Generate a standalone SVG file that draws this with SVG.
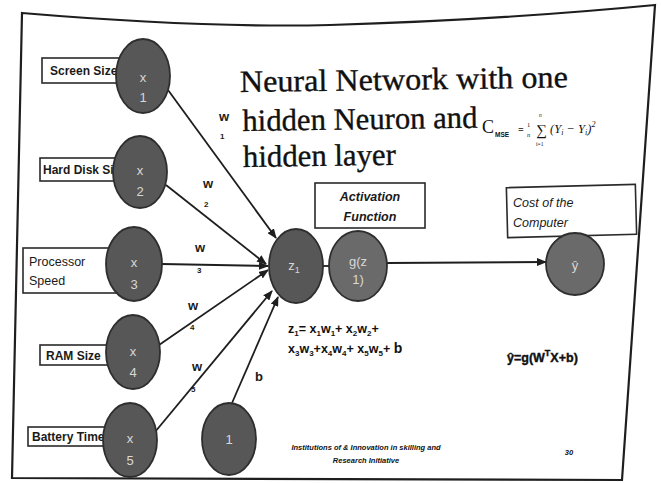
<svg xmlns="http://www.w3.org/2000/svg" width="661" height="483" viewBox="0 0 661 483">
<style>
.frame{fill:none;stroke:#1e1e1e;stroke-width:2.2}
.lbl{fill:#fff;stroke:#2a2a2a;stroke-width:1.6}
.node{fill:#575757;stroke:#2e2e2e;stroke-width:1.8}
.node2{fill:#6a6a6a;stroke:#2e2e2e;stroke-width:1.8}
.ntx{font-family:"Liberation Sans",Arial,sans-serif;font-size:13px;fill:#d8d8d8;text-anchor:middle}
.lt{font-family:"Liberation Sans",Arial,sans-serif;font-size:12px;font-weight:bold;fill:#1a1a1a}
.lt2{font-family:"Liberation Sans",Arial,sans-serif;font-size:12.5px;fill:#1a1a1a}
.it{font-family:"Liberation Sans",Arial,sans-serif;font-size:12.5px;font-style:italic;font-weight:bold;fill:#1a1a1a}
.title{font-family:"Liberation Serif","Times New Roman",serif;font-size:31px;fill:#111;stroke:#111;stroke-width:0.35}
.w{font-family:"Liberation Sans",Arial,sans-serif;font-size:13px;font-weight:bold;fill:#1a1a1a}
.ws{font-family:"Liberation Sans",Arial,sans-serif;font-size:8px;font-weight:bold;fill:#1a1a1a}
.eq{font-family:"Liberation Sans",Arial,sans-serif;font-size:12.5px;font-weight:bold;fill:#111}
.conn{stroke:#1e1e1e;stroke-width:1.8;fill:none}
.foot{font-family:"Liberation Sans",Arial,sans-serif;font-size:7.5px;font-weight:bold;font-style:italic;fill:#111}
</style>
<defs>
<marker id="ah" markerUnits="userSpaceOnUse" markerWidth="10" markerHeight="8" refX="9" refY="4" orient="auto">
<path d="M0,0 L10,4 L0,8 z" fill="#1e1e1e"/>
</marker>
</defs>
<rect width="661" height="483" fill="#ffffff"/>
<path class="frame" d="M22,13 Q200,28 330,25 Q500,20 655,5 L622,480 L12,478 Z"/>

<g id="title" transform="rotate(-0.8 240 92)">
<text class="title" x="240" y="92" textLength="328" lengthAdjust="spacingAndGlyphs">Neural Network with one</text>
<text class="title" x="242" y="131" textLength="235" lengthAdjust="spacingAndGlyphs">hidden Neuron and</text>
<text class="title" x="242" y="167" textLength="153" lengthAdjust="spacingAndGlyphs">hidden layer</text>
</g>

<g id="cost-formula" font-family="Liberation Serif,Times New Roman,serif" fill="#111">
<text x="482" y="133" font-size="18">C</text>
<text x="495" y="137" font-size="6.5" font-weight="bold" font-family="Liberation Sans,Arial,sans-serif">MSE</text>
<text x="518" y="133" font-size="10" font-weight="bold">=</text>
<text x="527" y="127" font-size="6.5">1</text>
<text x="527" y="137" font-size="6.5" font-style="italic">n</text>
<text x="536" y="135" font-size="15">∑</text>
<text x="539" y="117" font-size="5.5" font-style="italic">n</text>
<text x="536" y="146" font-size="5.5">i=1</text>
<text x="550" y="133" font-size="12.5" font-style="italic">(Y<tspan font-size="8" dy="2">i</tspan><tspan dy="-2"> − Y</tspan><tspan font-size="8" dy="2">i</tspan><tspan dy="-2">)</tspan><tspan font-size="8" dy="-6">2</tspan></text>
</g>

<g id="connectors">
<line class="conn" x1="168" y1="90" x2="276" y2="238" marker-end="url(#ah)"/>
<line class="conn" x1="166" y1="185" x2="266" y2="264" marker-end="url(#ah)"/>
<line class="conn" x1="162" y1="264" x2="268" y2="266" marker-end="url(#ah)"/>
<line class="conn" x1="159" y1="345" x2="268" y2="270" marker-end="url(#ah)"/>
<line class="conn" x1="155" y1="432" x2="272" y2="291" marker-end="url(#ah)"/>
<line class="conn" x1="232" y1="403" x2="278" y2="297" marker-end="url(#ah)"/>
<line class="conn" x1="323" y1="266" x2="330" y2="266"/>
<line class="conn" x1="387" y1="263" x2="546" y2="262" marker-end="url(#ah)"/>
</g>

<g id="weights">
<text class="w" x="219" y="121">w</text><text class="ws" x="220" y="139">1</text>
<text class="w" x="203" y="188">w</text><text class="ws" x="204" y="207">2</text>
<text class="w" x="195" y="252">w</text><text class="ws" x="197" y="273">3</text>
<text class="w" x="188" y="310">w</text><text class="ws" x="190" y="330">4</text>
<text class="w" x="192" y="371">w</text><text class="ws" x="191" y="392">5</text>
<text class="w" x="255" y="381" font-size="14">b</text>
</g>

<g id="n-x1">
<rect class="lbl" x="42" y="58" width="90" height="25"/>
<text class="lt" x="50" y="75">Screen Size</text>
<ellipse class="node" cx="143" cy="76" rx="27" ry="37"/>
<text class="ntx" x="143" y="82">x</text><text class="ntx" x="143" y="102" font-size="9">1</text>
</g>
<g id="n-x2">
<rect class="lbl" x="40" y="158" width="90" height="23"/>
<text class="lt" x="43" y="174">Hard Disk Size</text>
<ellipse class="node" cx="140" cy="172" rx="27" ry="36"/>
<text class="ntx" x="140" y="175">x</text><text class="ntx" x="140" y="196" font-size="9">2</text>
</g>
<g id="n-x3">
<rect class="lbl" x="23" y="248" width="100" height="45"/>
<text class="lt2" x="29" y="266">Processor</text>
<text class="lt2" x="29" y="285">Speed</text>
<ellipse class="node" cx="134" cy="264" rx="28" ry="37"/>
<text class="ntx" x="134" y="267">x</text><text class="ntx" x="134" y="289" font-size="9">3</text>
</g>
<g id="n-x4">
<rect class="lbl" x="40" y="345" width="75" height="20"/>
<text class="lt" x="46" y="360">RAM Size</text>
<ellipse class="node" cx="133" cy="352" rx="27" ry="37"/>
<text class="ntx" x="133" y="356">x</text><text class="ntx" x="133" y="377" font-size="9">4</text>
</g>
<g id="n-x5">
<rect class="lbl" x="28" y="427" width="80" height="19"/>
<text class="lt" x="32" y="441">Battery Time</text>
<ellipse class="node" cx="130" cy="440" rx="27" ry="37"/>
<text class="ntx" x="130" y="443">x</text><text class="ntx" x="130" y="465" font-size="9">5</text>
</g>
<g id="n-bias">
<ellipse class="node" cx="229" cy="439" rx="27" ry="36"/>
<text class="ntx" x="229" y="444">1</text>
</g>
<g id="n-z1">
<ellipse class="node" cx="296" cy="266" rx="27" ry="37"/>
<text class="ntx" x="294" y="270" font-size="14">z<tspan font-size="9" dy="3">1</tspan></text>
</g>
<g id="n-activation">
<rect class="lbl" x="315" y="183" width="110" height="45"/>
<text class="it" x="370" y="201" text-anchor="middle">Activation</text>
<text class="it" x="370" y="221" text-anchor="middle">Function</text>
</g>
<g id="n-g">
<ellipse class="node2" cx="358" cy="266" rx="29" ry="35"/>
<text class="ntx" x="358" y="266" font-size="14">g(z</text>
<text class="ntx" x="358" y="284" font-size="10">1)</text>
</g>
<g id="n-cost">
<rect class="lbl" x="507" y="186" width="129" height="50" transform="rotate(-1.5 571 211)"/>
<text class="lt2" x="513" y="207" font-style="italic" font-size="13">Cost of the</text>
<text class="lt2" x="513" y="227" font-style="italic" font-size="13">Computer</text>
</g>
<g id="n-yhat">
<ellipse class="node2" cx="575" cy="264" rx="29" ry="31"/>
<text class="ntx" x="575" y="270" font-size="16">ŷ</text>
</g>

<g id="equations">
<text class="eq" x="288" y="333">z<tspan font-size="8" dy="3">1</tspan><tspan dy="-3">= x</tspan><tspan font-size="8" dy="3">1</tspan><tspan dy="-3">w</tspan><tspan font-size="8" dy="3">1</tspan><tspan dy="-3">+ x</tspan><tspan font-size="8" dy="3">2</tspan><tspan dy="-3">w</tspan><tspan font-size="8" dy="3">2</tspan><tspan dy="-3">+</tspan></text>
<text class="eq" x="288" y="353">x<tspan font-size="8" dy="3">3</tspan><tspan dy="-3">w</tspan><tspan font-size="8" dy="3">3</tspan><tspan dy="-3">+x</tspan><tspan font-size="8" dy="3">4</tspan><tspan dy="-3">w</tspan><tspan font-size="8" dy="3">4</tspan><tspan dy="-3">+ x</tspan><tspan font-size="8" dy="3">5</tspan><tspan dy="-3">w</tspan><tspan font-size="8" dy="3">5</tspan><tspan dy="-3">+ </tspan><tspan font-size="14">b</tspan></text>
<text class="eq" x="507" y="362" font-weight="normal" font-size="14" fill="#111" stroke="#111" stroke-width="0.4">ŷ=g(W<tspan font-size="9" dy="-6">T</tspan><tspan dy="6">X+b)</tspan></text>
</g>

<g id="footer">
<text class="foot" x="366" y="450" text-anchor="middle">Institutions of &amp; Innovation in skilling and</text>
<text class="foot" x="366" y="463" text-anchor="middle">Research Initiative</text>
<text class="foot" x="569" y="455" text-anchor="middle" font-size="8">30</text>
</g>
</svg>
